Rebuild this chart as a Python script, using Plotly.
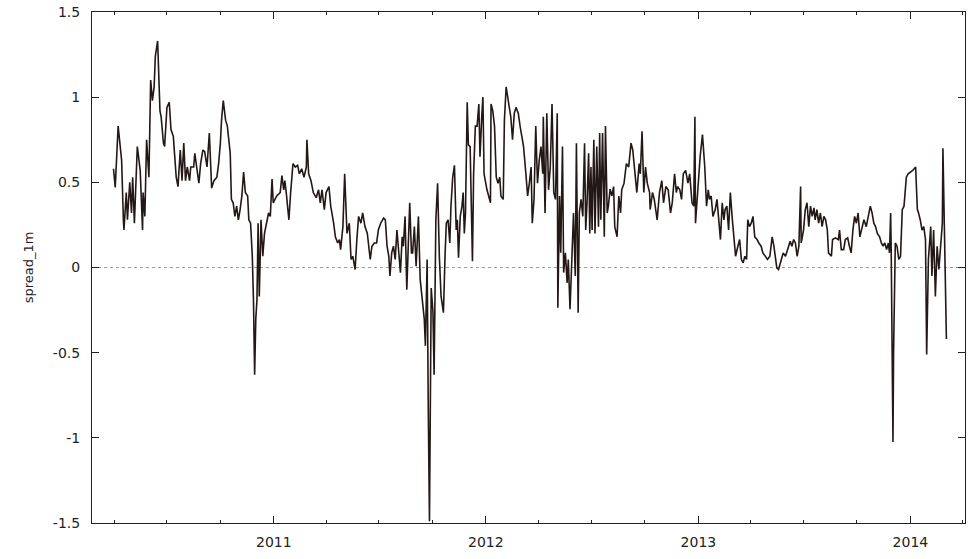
import pandas as pd
import plotly.graph_objects as go

base_date = "2010-01-01"
day_offsets = [
    89, 92, 97, 103, 106, 107, 111, 113, 117, 120, 122, 125, 130, 135, 139, 140, 143, 146, 150, 153,
    156, 159, 161, 165, 169, 171, 175, 177, 181, 185, 188, 192, 197, 200, 204, 207, 210, 213, 216, 220,
    222, 227, 229, 232, 236, 239, 243, 246, 250, 254, 258, 262, 267, 270, 273, 275, 278, 282, 285, 290,
    292, 295, 298, 301, 304, 307, 310, 313, 316, 320, 322, 325, 328, 330, 332, 334, 336, 338, 340, 343,
    346, 349, 353, 356, 359, 362, 364, 367,
    370, 376, 379, 382, 384, 387, 391, 394, 398, 402, 406, 409, 413, 417, 421, 422, 425, 429, 433, 438,
    442, 445, 448, 452, 455, 460, 463, 468, 471, 475, 478, 480, 484, 487, 491, 495, 498, 501, 505, 508,
    511, 515, 518, 522, 526, 531, 534, 538, 542, 545, 549, 554, 557, 560, 563, 565, 568, 571, 574, 577,
    580, 583, 586, 588, 591, 594, 599, 602, 604, 607, 610, 614, 617, 620, 624, 626, 629, 631, 633, 636,
    639, 641, 644, 647, 650, 653, 657,
    660, 662, 665, 668, 670, 673, 676, 679, 681, 683, 686, 689, 691, 693, 695, 698, 700, 703, 707, 709,
    712, 715, 718, 720, 723, 725, 727, 732, 738, 739, 742, 745, 748, 751, 754, 756, 760, 762, 765, 769,
    773, 776, 779, 782, 786, 789, 792, 795, 799, 802, 805, 808, 810, 813, 816, 819, 822, 825, 828, 829,
    832, 835, 838, 841, 844, 847, 850, 853, 854, 857, 859, 862, 864, 867, 870, 872, 875, 878, 881, 884,
    886, 889, 891, 894, 897, 900, 902, 904, 907, 909, 911, 913, 916, 918, 921, 924, 926, 928, 931, 934,
    936, 939, 941, 944, 947, 950,
    952, 956, 959, 962, 964, 968, 972, 976, 980, 983, 987, 990, 994, 996, 999, 1002, 1005, 1008, 1012, 1013,
    1017, 1020, 1025, 1029, 1033, 1036, 1040, 1044, 1048, 1051, 1055, 1058, 1060, 1064, 1067, 1070, 1074, 1078, 1081, 1085,
    1088, 1090, 1091, 1095, 1099, 1103, 1107, 1110, 1113, 1115, 1118, 1121, 1125, 1128, 1131, 1134, 1137, 1140, 1142, 1145,
    1148, 1151, 1154, 1157, 1160, 1164, 1167, 1170, 1173, 1176, 1179, 1181, 1184, 1187, 1190, 1193, 1197, 1200, 1204, 1207,
    1211, 1215, 1219, 1223, 1226, 1229, 1231, 1234, 1237, 1242, 1246,
    1250, 1254, 1257, 1260, 1263, 1266, 1269, 1272, 1273, 1277, 1280, 1283, 1286, 1289, 1292, 1295, 1297, 1300, 1303, 1306,
    1309, 1312, 1315, 1318, 1320, 1325, 1327, 1332, 1337, 1339, 1342, 1346, 1349, 1353, 1356, 1359, 1362, 1365, 1368, 1371,
    1374, 1378, 1381, 1385, 1388, 1392, 1395, 1398, 1401, 1404, 1408, 1411, 1414, 1417, 1420, 1423, 1425, 1427, 1428, 1430,
    1431, 1432, 1435, 1438, 1441, 1444, 1447, 1450, 1454, 1457, 1461, 1465, 1470, 1473, 1475, 1478, 1481, 1484, 1487, 1489,
    1492, 1494, 1496, 1498, 1501, 1504, 1507, 1510, 1513, 1516, 1517, 1520, 1523,
]
spread_1m = [
    0.58, 0.47, 0.83, 0.63, 0.28, 0.22, 0.44, 0.28, 0.50, 0.32, 0.53, 0.26, 0.71, 0.57, 0.22, 0.44, 0.30, 0.75, 0.53, 1.10,
    0.98, 1.06, 1.24, 1.33, 0.92, 0.885, 0.73, 0.71, 0.94, 0.97, 0.81, 0.77, 0.53, 0.475, 0.69, 0.51, 0.73, 0.51, 0.59, 0.51,
    0.59, 0.59, 0.67, 0.59, 0.495, 0.61, 0.69, 0.68, 0.59, 0.79, 0.466, 0.51, 0.53, 0.61, 0.73, 0.865, 0.98, 0.865, 0.83, 0.67,
    0.40, 0.38, 0.30, 0.36, 0.28, 0.34, 0.42, 0.56, 0.44, 0.42, 0.28, 0.26, 0.066, -0.19, -0.63, -0.30, -0.19, 0.26, -0.17, 0.28,
    0.066, 0.20, 0.26, 0.32, 0.30, 0.52, 0.38, 0.40,
    0.42, 0.44, 0.54, 0.456, 0.51, 0.42, 0.28, 0.44, 0.61, 0.59, 0.60, 0.55, 0.58, 0.53, 0.59, 0.75, 0.55, 0.51, 0.44, 0.41,
    0.456, 0.38, 0.456, 0.34, 0.44, 0.475, 0.36, 0.26, 0.18, 0.144, 0.164, 0.105, 0.24, 0.55, 0.20, 0.26, 0.047, 0.066, -0.012, 0.164,
    0.30, 0.26, 0.32, 0.24, 0.20, 0.047, 0.125, 0.144, 0.144, 0.22, 0.26, 0.29, 0.28, 0.125, 0.066, -0.05, 0.086, 0.125, 0.047, 0.22,
    0.066, -0.03, 0.18, 0.125, 0.30, -0.13, 0.38, 0.086, 0.086, 0.24, 0.008, 0.30, -0.07, -0.19, -0.30, -0.46, 0.047, -0.85, -1.49, -0.12,
    -0.26, -0.63, 0.28, 0.495, 0.066, -0.17, -0.265,
    0.088, 0.26, 0.28, 0.144, 0.36, 0.53, 0.60, 0.22, 0.28, 0.057, 0.30, 0.36, 0.44, 0.20, 0.32, 0.97, 0.72, 0.71, 0.037, 0.55,
    0.83, 0.83, 0.96, 0.65, 0.885, 1.0, 0.55, 0.456, 0.38, 0.96, 0.92, 0.83, 0.53, 0.495, 0.53, 0.42, 0.40, 0.865, 1.06, 0.98,
    0.885, 0.75, 0.905, 0.94, 0.905, 0.83, 0.77, 0.71, 0.55, 0.42, 0.495, 0.59, 0.26, 0.40, 0.83, 0.495, 0.63, 0.71, 0.55, 0.885,
    0.32, 0.905, 0.456, 0.59, 0.96, 0.44, 0.40, 0.905, -0.236, 0.42, 0.086, 0.71, -0.03, 0.086, -0.09, 0.047, -0.245, 0.008, 0.32, -0.05,
    0.73, -0.265, 0.32, 0.40, 0.30, 0.73, 0.22, 0.36, 0.67, 0.20, 0.59, 0.22, 0.75, 0.20, 0.71, 0.24, 0.79, 0.28, 0.79, 0.18,
    0.83, 0.32, 0.36, 0.46, 0.42, 0.475,
    0.24, 0.18, 0.42, 0.32, 0.456, 0.495, 0.61, 0.59, 0.73, 0.69, 0.55, 0.44, 0.61, 0.55, 0.80, 0.44, 0.59, 0.495, 0.44, 0.34,
    0.44, 0.40, 0.28, 0.44, 0.51, 0.38, 0.475, 0.456, 0.32, 0.38, 0.55, 0.44, 0.475, 0.456, 0.40, 0.55, 0.57, 0.495, 0.55, 0.38,
    0.36, 0.885, 0.26, 0.475, 0.65, 0.78, 0.59, 0.36, 0.456, 0.40, 0.42, 0.30, 0.34, 0.40, 0.26, 0.164, 0.38, 0.28, 0.34, 0.36,
    0.22, 0.44, 0.30, 0.18, 0.066, 0.125, 0.164, 0.047, 0.027, 0.066, 0.047, 0.28, 0.24, 0.26, 0.30, 0.18, 0.164, 0.144, 0.125, 0.086,
    0.066, 0.047, 0.066, 0.18, 0.125, 0.047, -0.002, -0.012, 0.027, 0.086, 0.066,
    0.105, 0.154, 0.125, 0.164, 0.144, 0.066, 0.125, 0.475, 0.144, 0.22, 0.34, 0.38, 0.24, 0.36, 0.30, 0.35, 0.28, 0.34, 0.26, 0.32,
    0.24, 0.30, 0.28, 0.22, 0.086, 0.066, 0.164, 0.174, 0.164, 0.22, 0.105, 0.105, 0.164, 0.174, 0.125, 0.086, 0.22, 0.30, 0.26, 0.32,
    0.18, 0.24, 0.28, 0.24, 0.30, 0.36, 0.32, 0.26, 0.24, 0.20, 0.18, 0.144, 0.125, 0.144, 0.105, 0.144, 0.086, 0.32, 0.086, -0.48,
    -1.025, -0.50, 0.144, 0.125, 0.047, 0.066, 0.34, 0.36, 0.53, 0.55, 0.56, 0.57, 0.59, 0.34, 0.32, 0.28, 0.22, 0.24, 0.164, -0.51,
    0.047, 0.144, 0.24, -0.05, 0.22, -0.17, 0.125, -0.012, 0.144, 0.26, 0.70, 0.047, -0.42,
]

y_tick_vals = [-1.5, -1, -0.5, 0, 0.5, 1, 1.5]
y_tick_text = ["-1.5", "-1", "-0.5", "0", "0.5", "1", "1.5"]
x_tick_vals = ["2011-01-01", "2012-01-01", "2013-01-01", "2014-01-01"]
x_tick_text = ["2011", "2012", "2013", "2014"]
x_range = ["2010-02-22", "2014-04-05"]
y_range = [-1.5, 1.5]

n = min(len(day_offsets), len(spread_1m))
dates = pd.Timestamp(base_date) + pd.to_timedelta(day_offsets[:n], unit="D")

fig = go.Figure()
fig.add_trace(go.Scatter(
    x=dates, y=spread_1m[:n], mode="lines",
    line=dict(color="#231815", width=1.6),
    showlegend=False, hoverinfo="x+y",
))

fig.add_shape(type="line", xref="paper", yref="y", x0=0, x1=1, y0=0, y1=0,
              line=dict(color="#9a9a9a", width=1, dash="dot"), layer="below")

tick_font = dict(family="DejaVu Sans", size=14, color="#222222")
title_font = dict(family="DejaVu Sans", size=13, color="#222222")
fig.update_layout(
    width=972, height=559,
    margin=dict(l=92, r=7, t=12, b=36),
    paper_bgcolor="white", plot_bgcolor="white",
    font=tick_font,
    xaxis=dict(
        type="date", range=x_range, automargin=False,
        tickvals=x_tick_vals, ticktext=x_tick_text,
        ticks="inside", ticklen=7, tickwidth=1, tickcolor="#222",
        showline=True, linecolor="#222", linewidth=1, mirror="allticks",
        showgrid=False, zeroline=False,
        ticklabelstandoff=6,
        minor=dict(dtick="M3", tick0="2010-01-01", ticks="inside", ticklen=3,
                   tickcolor="#222", showgrid=False),
        tickfont=tick_font,
    ),
    yaxis=dict(
        range=y_range, automargin=False,
        tickvals=y_tick_vals, ticktext=y_tick_text,
        ticks="inside", ticklen=7, tickwidth=1, tickcolor="#222",
        showline=True, linecolor="#222", linewidth=1, mirror="allticks",
        showgrid=False, zeroline=False,
        ticklabelstandoff=8,
        title=dict(text="spread_1m", font=title_font, standoff=16),
        tickfont=tick_font,
    ),
)

fig.write_html("out.html")
